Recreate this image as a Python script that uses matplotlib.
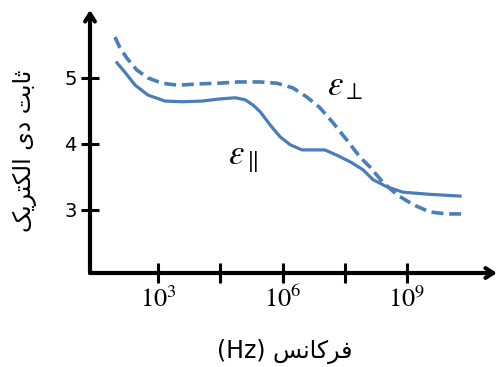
import matplotlib
matplotlib.use("Agg")
import matplotlib.pyplot as plt
import numpy as np

# ---- data (log10 of frequency in Hz, dielectric constant) ----
perp_logf = [1.96, 2.08, 2.25, 2.49, 2.76, 3.10, 3.48, 3.96, 4.45, 4.93, 5.46, 5.87,
             6.25, 6.59, 6.90, 7.22, 7.55, 7.87, 8.11, 8.42, 8.76, 9.15, 9.55, 9.96, 10.35]
perp_eps = [5.62, 5.46, 5.30, 5.12, 5.00, 4.92, 4.89, 4.91, 4.92, 4.94, 4.94, 4.92,
            4.85, 4.71, 4.55, 4.32, 4.06, 3.80, 3.65, 3.42, 3.23, 3.08, 2.97, 2.94, 2.94]

par_logf = [2.01, 2.21, 2.45, 2.76, 3.17, 3.58, 4.06, 4.45, 4.86, 5.10, 5.29, 5.46,
            5.70, 5.94, 6.18, 6.47, 6.74, 7.02, 7.31, 7.63, 7.94, 8.18, 8.52, 8.90,
            9.48, 10.28]
par_eps = [5.23, 5.08, 4.89, 4.74, 4.65, 4.64, 4.65, 4.68, 4.70, 4.67, 4.59, 4.49,
           4.29, 4.11, 3.99, 3.91, 3.91, 3.91, 3.83, 3.73, 3.61, 3.46, 3.35, 3.27,
           3.24, 3.21]

x_tick_exp = [3, 4.5, 6, 7.5, 9]
x_tick_labels = [r"$10^3$", "", r"$10^6$", "", r"$10^9$"]
y_ticks = [3, 4, 5]
y_tick_labels = ["3", "4", "5"]

# Persian labels (presentation forms, in visual order)
ylabel_logical = ("\uFE9B\uFE8E\uFE91\uFE96" + " " + "\uFEA9\uFBFC" + " " +
                  "\uFE8D\uFEDF\uFB91\uFE98\uFEAE\uFBFE\uFB8F")
ylabel_text = ylabel_logical[::-1]
xlabel_word = "\uFED3\uFEAE\uFB90\uFE8E\uFEE7\uFEB2"
xlabel_text = "(Hz) " + xlabel_word[::-1]

plt.rcParams["mathtext.fontset"] = "stix"

W, H = 497, 367
fig = plt.figure(figsize=(W / 100, H / 100), dpi=100)
ax = fig.add_axes([90 / W, (H - 273) / H, (497 - 90) / W, (273 - 10) / H])
ax.set_xscale("log")
ax.set_xlim(10 ** 1.36, 10 ** 11.17)
ax.set_ylim(2.045, 6.03)

color = "#4a7ebb"
ax.plot(10.0 ** np.array(perp_logf), perp_eps, color=color, lw=2.6,
        dashes=(3.3, 1.6), dash_capstyle="butt", solid_joinstyle="round")
ax.plot(10.0 ** np.array(par_logf), par_eps, color=color, lw=2.3,
        solid_joinstyle="round")

for s in ax.spines.values():
    s.set_visible(False)

for end in [(0, 1), (1, 0)]:
    ax.annotate("", xy=end, xytext=(0, 0), xycoords="axes fraction",
                arrowprops=dict(arrowstyle="->,head_length=0.55,head_width=0.35",
                                lw=3, color="black", shrinkA=0, shrinkB=0),
                annotation_clip=False)

ax.set_xticks([10.0 ** e for e in x_tick_exp])
ax.set_xticklabels(x_tick_labels)
ax.xaxis.set_minor_locator(matplotlib.ticker.NullLocator())
ax.set_yticks(y_ticks)
ax.set_yticklabels(y_tick_labels)
ax.tick_params(axis="x", direction="inout", length=14, width=2.2, pad=3,
               labelsize=19, colors="black")
ax.tick_params(axis="y", direction="inout", length=13, width=2.2, pad=3,
               labelsize=14, colors="black")

ax.text(10 ** 7.5, 4.89, r"$\varepsilon_{\perp}$", fontsize=25,
        ha="center", va="center", color="black")
ax.text(10 ** 5.05, 3.79, r"$\varepsilon_{\parallel}$", fontsize=25,
        ha="center", va="center", color="black")

fig.text(25 / W, 1 - 151 / H, ylabel_text, rotation=90, ha="center",
         va="center", fontsize=17, family="DejaVu Sans")
fig.text(285 / W, 1 - 352 / H, xlabel_text, ha="center", va="center",
         fontsize=17, family="DejaVu Sans")

fig.savefig("out.png", dpi=100)
